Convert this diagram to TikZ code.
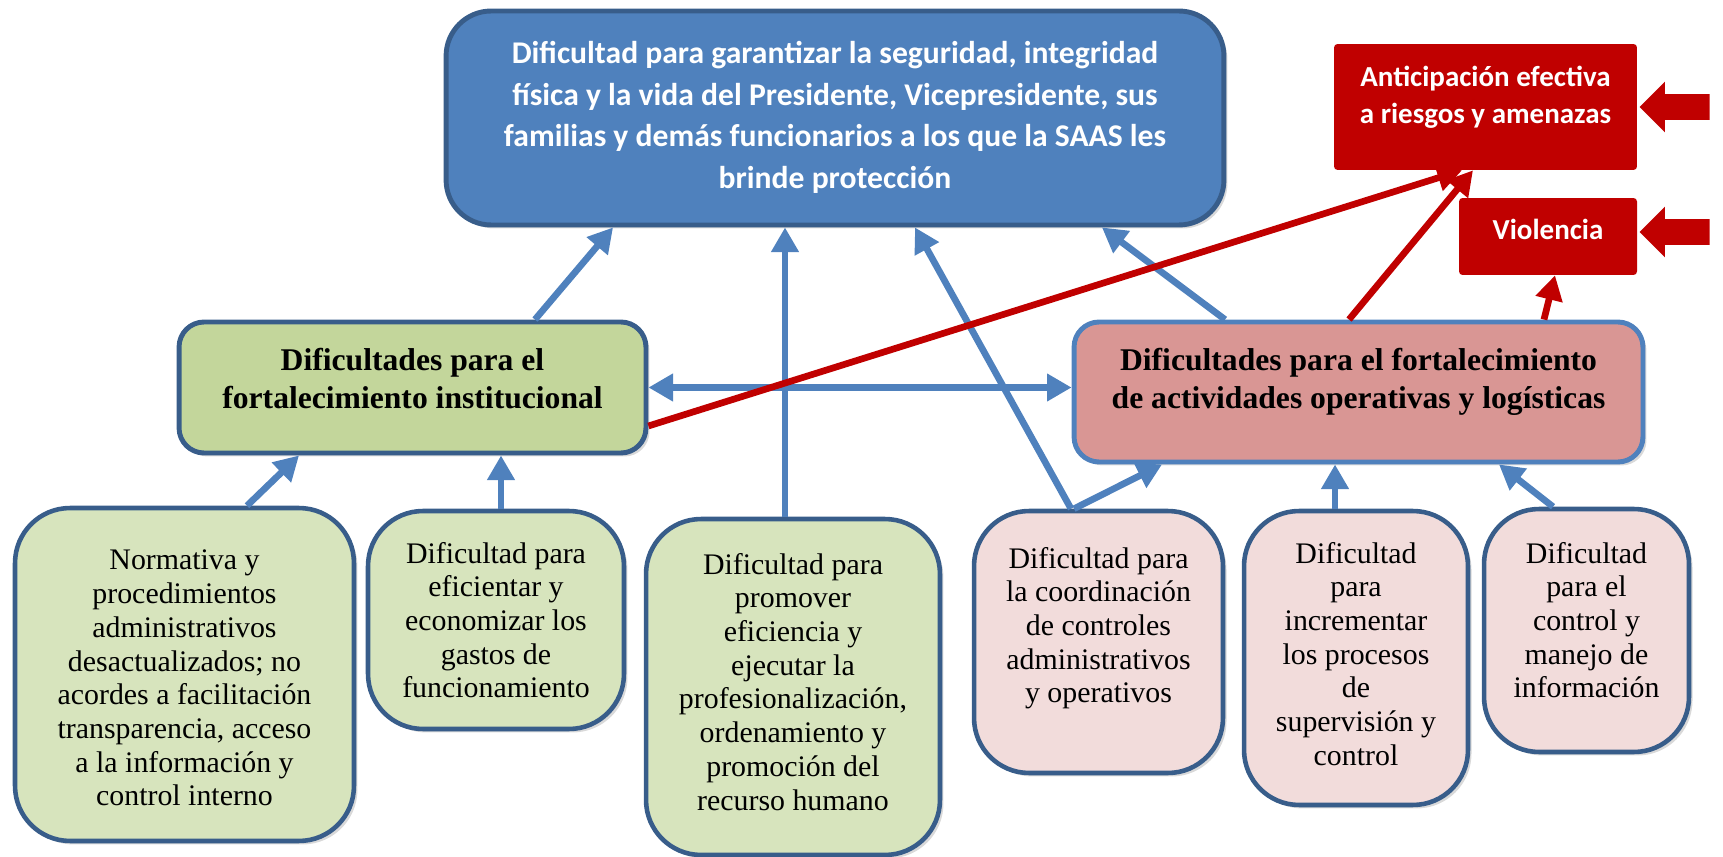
\documentclass[tikz,border=0pt]{standalone}
\usepackage{fontspec}
\setmainfont{Liberation Serif}
\newfontfamily\calibri{Carlito}
\usetikzlibrary{arrows.meta, shapes.arrows, shadows}

\definecolor{azul}{HTML}{4F81BD}
\definecolor{azulosc}{HTML}{385D8A}
\definecolor{verde}{HTML}{C3D69B}
\definecolor{verdecl}{HTML}{D7E4BD}
\definecolor{rosa}{HTML}{D99694}
\definecolor{rosacl}{HTML}{F2DCDB}
\definecolor{rojo}{HTML}{C00000}

% ancho, alto, margen superior, texto
\newcommand{\caja}[4]{\parbox[c][#2][t]{#1}{\centering\vspace*{#3}#4\par}}

\begin{document}
\begin{tikzpicture}[x=0.02cm, y=-0.02cm,
    every node/.style={inner sep=0pt},
    sombra/.style={drop shadow={opacity=0.3, shadow xshift=2pt, shadow yshift=-2pt}},
    principal/.style={rectangle, rounded corners=0.9cm, fill=azul, draw=azulosc,
        line width=2.8pt, text=white, sombra,
        font=\calibri\bfseries\fontsize{18}{23.8}\selectfont},
    efecto/.style={rectangle, rounded corners=2pt, fill=rojo, text=white,
        font=\calibri\bfseries\fontsize{16.5}{21}\selectfont},
    causa/.style={rectangle, rounded corners=0.5cm, line width=2.8pt, sombra,
        font=\bfseries\fontsize{18}{21.6}\selectfont},
    subcausa/.style={rectangle, rounded corners=1.1cm, line width=2.6pt,
        draw=azulosc, sombra, font=\fontsize{17}{19.2}\selectfont},
    bloque/.style={single arrow, fill=rojo, shape border rotate=180,
        inner xsep=0pt, inner ysep=0.25cm, minimum height=1.4cm,
        single arrow head extend=0.25cm},
    flecha/.style={draw=azul, line width=3.8pt, -{Triangle[length=14pt, width=15pt]}},
    flechadoble/.style={draw=azul, line width=3.8pt,
        {Triangle[length=14pt, width=15pt]}-{Triangle[length=14pt, width=15pt]}},
    flecharoja/.style={draw=rojo, line width=3.8pt, -{Triangle[length=14pt, width=15pt]}}]

    \useasboundingbox (0,0) rectangle (1723,857);

    % problema central
    \node[principal] (dificultad) at (835,118) {\caja{15.56cm}{4.28cm}{0.6cm}{Dificultad para garantizar la seguridad, integridad\\ física y la vida del Presidente, Vicepresidente, sus\\ familias y demás funcionarios a los que la SAAS les\\ brinde protección}};

    % efectos
    \node[efecto] (anticipacion) at (1485.5,107) {\caja{6.06cm}{2.52cm}{0.44cm}{Anticipación efectiva\\ a riesgos y amenazas}};
    \node[efecto] (violencia) at (1548,236.5) {\caja{3.56cm}{1.54cm}{0.42cm}{Violencia}};
    \node[bloque] (flechaA) at (1681,107) {};
    \node[bloque] (flechaB) at (1681,232) {};

    % causas
    \node[causa, fill=verde, draw=azulosc] (institucional) at (412.5,387.5) {\caja{9.34cm}{2.62cm}{0.52cm}{Dificultades para el\\ fortalecimiento institucional}};
    \node[causa, fill=rosa, draw=azul] (operativas) at (1358.5,392) {\caja{11.38cm}{2.8cm}{0.52cm}{Dificultades para el fortalecimiento\\ de actividades operativas y logísticas}};

    % subcausas
    \node[subcausa, fill=verdecl] (normativa) at (184.5,674.5) {\caja{6.78cm}{6.66cm}{0.84cm}{Normativa y\\ procedimientos\\ administrativos\\ desactualizados; no\\ acordes a facilitación\\ transparencia, acceso\\ a la información y\\ control interno}};
    \node[subcausa, fill=verdecl] (gastos) at (496,620) {\caja{5.12cm}{4.36cm}{0.62cm}{Dificultad para\\ eficientar y\\ economizar los\\ gastos de\\ funcionamiento}};
    \node[subcausa, fill=verdecl] (recurso) at (793,687) {\caja{5.88cm}{6.72cm}{0.68cm}{Dificultad para\\ promover\\ eficiencia y\\ ejecutar la\\ profesionalización,\\ ordenamiento y\\ promoción del\\ recurso humano}};
    \node[subcausa, fill=rosacl] (coordinacion) at (1098.5,642) {\caja{4.98cm}{5.24cm}{0.72cm}{Dificultad para\\ la coordinación\\ de controles\\ administrativos\\ y operativos}};
    \node[subcausa, fill=rosacl] (supervision) at (1356,658) {\caja{4.48cm}{5.88cm}{0.62cm}{Dificultad\\ para\\ incrementar\\ los procesos\\ de\\ supervisión y\\ control}};
    \node[subcausa, fill=rosacl] (informacion) at (1586.5,630.5) {\caja{4.1cm}{4.86cm}{0.66cm}{Dificultad\\ para el\\ control y\\ manejo de\\ información}};

    % hacia el problema central
    \draw[flecha] ([xshift=2.45cm]institucional.north) -- ([xshift=-4.44cm]dificultad.south);
    \draw[flecha] ([xshift=-0.16cm]recurso.north) -- ([xshift=-0.16cm]recurso.north |- dificultad.south);
    \draw[flecha] ([xshift=-0.55cm]coordinacion.north) -- ([xshift=1.6cm]dificultad.south);
    \draw[flecha] ([xshift=-2.67cm]operativas.north) -- ([xshift=5.34cm]dificultad.south);
    \draw[flechadoble] (institucional.east) -- (institucional.east -| operativas.west);

    % hacia las causas
    \draw[flecha] ([xshift=1.25cm]normativa.north) -- ([xshift=-2.27cm]institucional.south);
    \draw[flecha] ([xshift=0.1cm]gastos.north) -- ([xshift=0.1cm]gastos.north |- institucional.south);
    \draw[flecha] ([xshift=-0.49cm]coordinacion.north) -- ([xshift=-3.93cm]operativas.south);
    \draw[flecha] ([xshift=-0.42cm]supervision.north) -- ([xshift=-0.42cm]supervision.north |- operativas.south);
    \draw[flecha] ([xshift=-0.67cm]informacion.north) -- ([xshift=2.81cm]operativas.south);

    % hacia los efectos
    \draw[flecharoja] ([yshift=-0.77cm]institucional.east) -- ([xshift=-0.47cm]anticipacion.south);
    \draw[flecharoja] ([xshift=-0.19cm]operativas.north) -- ([xshift=-0.25cm]anticipacion.south);
    \draw[flecharoja] ([xshift=3.71cm]operativas.north) -- ([xshift=0.14cm]violencia.south);
\end{tikzpicture}
\end{document}
